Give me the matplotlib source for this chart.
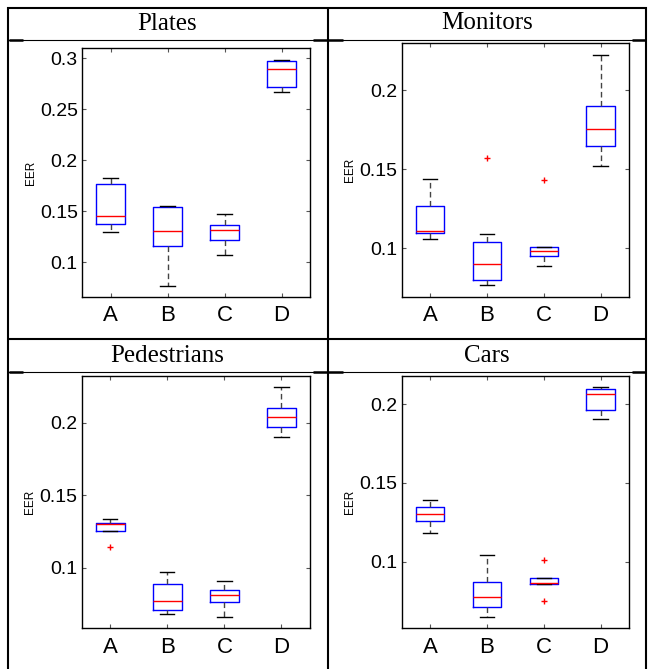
import numpy as np
import matplotlib.pyplot as plt
from matplotlib.lines import Line2D

W, H = 650, 669

categories = ['A', 'B', 'C', 'D']
titles = ['Plates', 'Monitors', 'Pedestrians', 'Cars']

# per panel: median, lower/upper quartile, whisker ends, outliers
plates_med = [0.145, 0.131, 0.132, 0.289]
plates_q1 = [0.138, 0.116, 0.122, 0.272]
plates_q3 = [0.177, 0.154, 0.137, 0.297]
plates_lo = [0.130, 0.077, 0.107, 0.267]
plates_hi = [0.183, 0.155, 0.147, 0.298]
plates_out = [[], [], [], []]

monitors_med = [0.111, 0.090, 0.098, 0.1755]
monitors_q1 = [0.110, 0.080, 0.095, 0.165]
monitors_q3 = [0.127, 0.104, 0.101, 0.190]
monitors_lo = [0.106, 0.077, 0.089, 0.152]
monitors_hi = [0.144, 0.109, 0.101, 0.222]
monitors_out = [[], [0.157], [0.143], []]

peds_med = [0.1305, 0.0773, 0.0814, 0.2037]
peds_q1 = [0.1253, 0.0710, 0.0768, 0.1968]
peds_q3 = [0.1312, 0.0892, 0.0851, 0.2099]
peds_lo = [0.1253, 0.0683, 0.0665, 0.1902]
peds_hi = [0.1337, 0.0970, 0.0913, 0.2246]
peds_out = [[0.1142], [], [], []]

cars_med = [0.1302, 0.0778, 0.0863, 0.2063]
cars_q1 = [0.1256, 0.0713, 0.0859, 0.1960]
cars_q3 = [0.1347, 0.0869, 0.0899, 0.2095]
cars_lo = [0.1184, 0.0649, 0.0859, 0.1907]
cars_hi = [0.1393, 0.1043, 0.0899, 0.2110]
cars_out = [[], [], [0.1013, 0.0749], []]

panels = [
    (plates_med, plates_q1, plates_q3, plates_lo, plates_hi, plates_out),
    (monitors_med, monitors_q1, monitors_q3, monitors_lo, monitors_hi, monitors_out),
    (peds_med, peds_q1, peds_q3, peds_lo, peds_hi, peds_out),
    (cars_med, cars_q1, cars_q3, cars_lo, cars_hi, cars_out),
]

# axes boxes in pixels: left, right, top, bottom (y from top)
boxes = [(82, 310, 48, 297), (401.7, 629, 43.3, 296.7),
         (81.7, 310, 375.7, 628.3), (401.7, 629, 375.7, 628.3)]
ylims = [(0.066, 0.31), (0.0694, 0.2297), (0.0585, 0.2323), (0.0578, 0.218)]
yticks = [[0.1, 0.15, 0.2, 0.25, 0.3], [0.1, 0.15, 0.2], [0.1, 0.15, 0.2], [0.1, 0.15, 0.2]]


def fx(x):
    return x / W


def fy(y):
    return 1 - y / H


fig = plt.figure(figsize=(W / 100, H / 100), dpi=100)

for i in range(0, 4):
    l, r, t, b = boxes[i]
    ax = fig.add_axes([fx(l), fy(b), (r - l) / W, (b - t) / H])
    med, q1, q3, lo, hi, out = panels[i]
    stats = list()
    for k in range(0, 4):
        stats.append(dict(med=med[k], q1=q1[k], q3=q3[k], whislo=lo[k], whishi=hi[k], fliers=out[k]))
    ax.bxp(stats, positions=[1, 2, 3, 4], widths=0.5, showfliers=True,
           boxprops=dict(color='blue', linewidth=1.0),
           medianprops=dict(color='red', linewidth=1.0),
           whiskerprops=dict(color='#444444', linewidth=1.0, linestyle=(0, (4, 2.5))),
           capprops=dict(color='black', linewidth=1.0),
           flierprops=dict(marker='+', markeredgecolor='red', markersize=4, markeredgewidth=1.0))
    ax.set_xlim(0.5, 4.5)
    ax.set_ylim(*ylims[i])
    ax.set_yticks(yticks[i])
    ax.set_yticklabels(['%g' % v for v in yticks[i]], fontsize=14, family=['Liberation Sans', 'DejaVu Sans'])
    ax.set_xticks([1, 2, 3, 4])
    ax.set_xticklabels(categories, fontsize=16, family=['Liberation Sans Narrow', 'Liberation Sans'])
    ax.tick_params(axis='both', direction='in', length=3, width=0.8, top=True, right=True, color='#555555')
    ax.tick_params(axis='y', pad=3)
    ax.tick_params(axis='x', pad=6)
    for s in ax.spines.values():
        s.set_linewidth(1.0)
    ax.set_ylabel('EER', fontsize=8.5, family=['Liberation Sans', 'DejaVu Sans'])
    ax.yaxis.set_label_coords(-45.3 / (r - l), 0.5)

# table lines
def hline(y, x0, x1, lw):
    fig.add_artist(Line2D([fx(x0), fx(x1)], [fy(y), fy(y)], transform=fig.transFigure, color='black', linewidth=lw, solid_capstyle='butt'))


def vline(x, y0, y1, lw):
    fig.add_artist(Line2D([fx(x), fx(x)], [fy(y0), fy(y1)], transform=fig.transFigure, color='black', linewidth=lw, solid_capstyle='butt'))


hline(8, 6.5, 647, 1.5)
hline(339, 6.5, 647, 1.5)
vline(7.5, 7, 669, 1.5)
vline(327.5, 7, 669, 1.5)
vline(646, 7, 669, 1.5)
for yy in [39.5, 371.5]:
    hline(yy, 7, 646, 0.8)
    for x0, x1 in [(8.5, 23), (312.5, 342.5), (632, 645)]:
        hline(yy + 0.8, x0, x1, 1.8)

cx = [167, 487, 167, 487]
by = [30, 29.3, 361.7, 361.7]
for i in range(0, 4):
    fig.text(fx(cx[i]), fy(by[i]), titles[i], ha='center', va='baseline', fontsize=18,
             family=['Liberation Serif', 'DejaVu Serif'])

fig.savefig('out.png', dpi=100)
